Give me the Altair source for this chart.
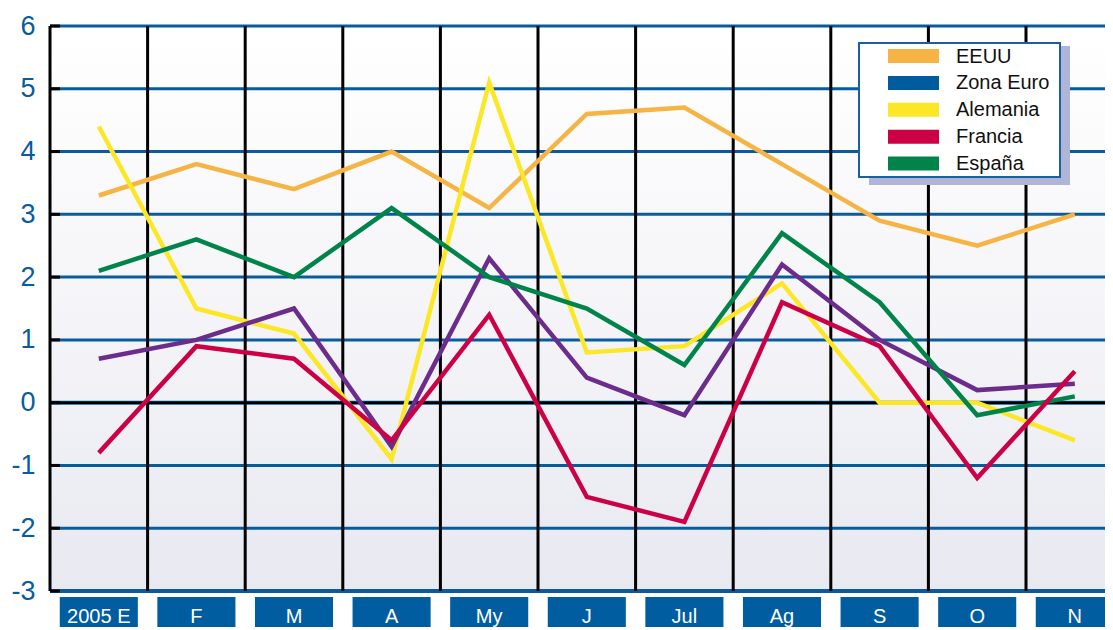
import altair as alt
import pandas as pd

# ---------------- data ----------------
months = ["2005 E", "F", "M", "A", "My", "J", "Jul", "Ag", "S", "O", "N"]
series = ["EEUU", "Zona Euro", "Alemania", "Francia", "España"]
eeuu = [3.3, 3.8, 3.4, 4.0, 3.1, 4.6, 4.7, 3.8, 2.9, 2.5, 3.0]
zona_euro = [0.7, 1.0, 1.5, -0.7, 2.3, 0.4, -0.2, 2.2, 1.0, 0.2, 0.3]
alemania = [4.4, 1.5, 1.1, -0.9, 5.1, 0.8, 0.9, 1.9, 0.0, 0.0, -0.6]
francia = [-0.8, 0.9, 0.7, -0.6, 1.4, -1.5, -1.9, 1.6, 0.9, -1.2, 0.5]
espana = [2.1, 2.6, 2.0, 3.1, 2.0, 1.5, 0.6, 2.7, 1.6, -0.2, 0.1]
y_ticks = [-3, -2, -1, 0, 1, 2, 3, 4, 5, 6]

values = {"EEUU": eeuu, "Zona Euro": zona_euro, "Alemania": alemania,
          "Francia": francia, "España": espana}

# ---------------- styles ----------------
line_colors = {"EEUU": "#f5b443", "Zona Euro": "#6b2c8c", "Alemania": "#fbe726",
               "Francia": "#cc0045", "España": "#00844a"}
swatch_colors = {"EEUU": "#f5b443", "Zona Euro": "#005b9f", "Alemania": "#fbe726",
                 "Francia": "#cc0045", "España": "#00844a"}
draw_order = ["EEUU", "Alemania", "Zona Euro", "España", "Francia"]
BLUE = "#085c9e"
FONT = "Liberation Sans"

PLOT_W = 1055
PLOT_H = 565
BAND = 97.6
XMAX = PLOT_W / BAND
PX_Y = PLOT_H / 9.0

xs = alt.Scale(domain=[0, XMAX], nice=False, zero=False)
ys = alt.Scale(domain=[-3, 6], nice=False, zero=False)

Y_AXIS = alt.Axis(values=y_ticks, domain=False, ticks=False, grid=False,
                  labelFont=FONT, labelFontSize=27, labelColor=BLUE,
                  labelPadding=15, labelAlign="right", labelBaseline="middle",
                  labelFlush=False, labelExpr="'' + datum.value", title=None)


def Y(field):
    return alt.Y(field, scale=ys, axis=Y_AXIS, title=None)


def X(field):
    return alt.X(field, scale=xs, axis=None, title=None)


def px_x(p):
    return (p - 50) / BAND


def px_y(p):
    return 6 - (p - 26) / PX_Y


# ---------------- tables ----------------
rows = []
for s in series:
    for i, m in enumerate(months):
        rows.append({"series": s, "month": m, "xi": i + 0.5, "value": values[s][i]})
df = pd.DataFrame(rows)

bg = pd.DataFrame({"x0": [0], "x1": [XMAX], "y0": [-3], "y1": [6]})

background = alt.Chart(bg).mark_rect(
    color=alt.LinearGradient(
        gradient="linear",
        stops=[alt.GradientStop(offset=0, color="#ffffff"),
               alt.GradientStop(offset=0.45, color="#f6f6f9"),
               alt.GradientStop(offset=1, color="#e8e9f1")],
        x1=0, x2=0, y1=0, y2=1)
).encode(x=X("x0:Q"), x2="x1:Q", y=Y("y0:Q"), y2="y1:Q")

hgrid_df = pd.DataFrame({"y": [t for t in y_ticks if t not in (0, -3)], "x0": 0, "x1": XMAX})
hgrid = alt.Chart(hgrid_df).mark_rule(color=BLUE, strokeWidth=3).encode(
    x=X("x0:Q"), x2="x1:Q", y=Y("y:Q"))

edge_df = pd.DataFrame({"y": [0, -3], "x0": 0, "x1": XMAX})
edge_blue = alt.Chart(edge_df).mark_rule(color=BLUE, strokeWidth=4).encode(
    x=X("x0:Q"), x2="x1:Q", y=Y("y:Q"))

zero_df = pd.DataFrame({"y": [0], "x0": 0, "x1": XMAX})
zero_black = alt.Chart(zero_df).mark_rule(color="#000000", strokeWidth=2.5).encode(
    x=X("x0:Q"), x2="x1:Q", y=Y("y:Q"))

vgrid_df = pd.DataFrame({"x": list(range(0, len(months))), "y0": -3, "y1": 6})
vgrid = alt.Chart(vgrid_df).mark_rule(color="#000000", strokeWidth=3).encode(
    x=X("x:Q"), y=Y("y0:Q"), y2="y1:Q")

ticks_df = pd.DataFrame({"y": y_ticks, "x0": 0, "x1": 10 / BAND})
ticks = alt.Chart(ticks_df).mark_rule(color="#000000", strokeWidth=3).encode(
    x=X("x0:Q"), x2="x1:Q", y=Y("y:Q"))

lines = []
for s in draw_order:
    lines.append(
        alt.Chart(df[df.series == s]).mark_line(
            color=line_colors[s], strokeWidth=4.5, strokeJoin="miter", strokeCap="butt"
        ).encode(x=X("xi:Q"), y=Y("value:Q"), order="xi:Q")
    )

# ---------------- x label boxes ----------------
lab_df = pd.DataFrame({"month": months, "xi": [i + 0.5 for i in range(len(months))],
                       "x0": [i + 0.1 for i in range(len(months))],
                       "x1": [i + 0.9 for i in range(len(months))]})
lab_boxes = alt.Chart(lab_df).mark_rect(color="#005d9f").encode(
    x=X("x0:Q"), x2="x1:Q", y=alt.value(571), y2=alt.value(612))
lab_text = alt.Chart(lab_df).mark_text(
    color="#ffffff", font=FONT, fontSize=20, baseline="middle", align="center"
).encode(x=X("xi:Q"), y=alt.value(591), text="month:N")

# ---------------- legend ----------------
shadow_df = pd.DataFrame({"x0": [px_x(869)], "x1": [px_x(1070)], "y0": [px_y(46)], "y1": [px_y(185)]})
shadow = alt.Chart(shadow_df).mark_rect(color="#aeb5d7").encode(
    x=X("x0:Q"), x2="x1:Q", y=Y("y0:Q"), y2="y1:Q")
box_df = pd.DataFrame({"x0": [px_x(859)], "x1": [px_x(1060)], "y0": [px_y(43)], "y1": [px_y(177)]})
box = alt.Chart(box_df).mark_rect(fill="#ffffff", stroke="#1a60a0", strokeWidth=2).encode(
    x=X("x0:Q"), x2="x1:Q", y=Y("y0:Q"), y2="y1:Q")

leg_rows = []
for k, s in enumerate(series):
    cy = 56 + 26.9 * k
    leg_rows.append({"series": s, "sx0": px_x(888), "sx1": px_x(939),
                     "sy0": px_y(cy - 7), "sy1": px_y(cy + 7),
                     "tx": px_x(956), "ty": px_y(cy + 0.5)})
leg_df = pd.DataFrame(leg_rows)
swatches = alt.Chart(leg_df).mark_rect().encode(
    x=X("sx0:Q"), x2="sx1:Q", y=Y("sy0:Q"), y2="sy1:Q",
    color=alt.Color("series:N", legend=None,
                    scale=alt.Scale(domain=series, range=[swatch_colors[s] for s in series])))
leg_text = alt.Chart(leg_df).mark_text(
    color="#111111", font=FONT, fontSize=20, align="left", baseline="middle"
).encode(x=X("tx:Q"), y=Y("ty:Q"), text="series:N")

chart = alt.layer(
    background, hgrid, edge_blue, zero_black, vgrid, ticks,
    *lines,
    shadow, box, swatches, leg_text,
    lab_boxes, lab_text,
).properties(
    width=PLOT_W, height=PLOT_H,
    autosize=alt.AutoSizeParams(type="none"),
    padding={"left": 42, "top": 18, "right": 0, "bottom": 36},
).configure_view(stroke=None).configure(background="#ffffff")

chart.save("out.html", embed_options={"renderer": "svg", "actions": False})
